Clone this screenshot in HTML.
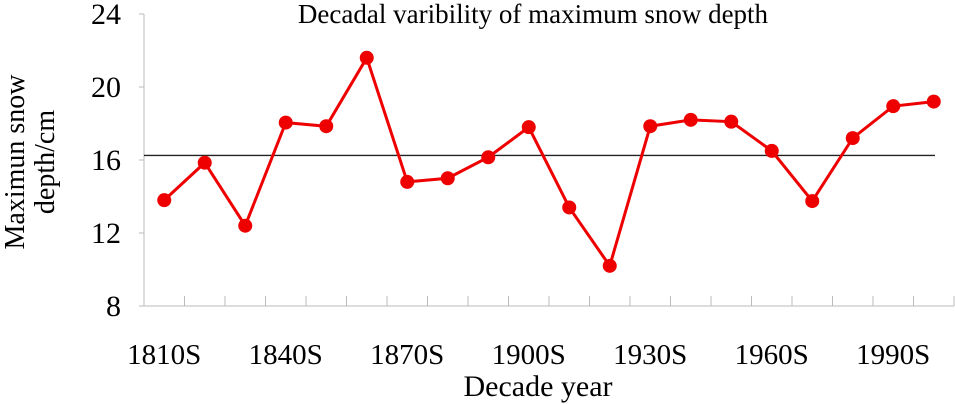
<!DOCTYPE html>
<html><head><meta charset="utf-8"><style>
body{margin:0;background:#fff;}
svg{display:block;font-family:"Liberation Serif",serif;}
</style></head><body>
<svg id="chart" width="955" height="404"></svg>
<script>
const categories=["1810S","1820S","1830S","1840S","1850S","1860S","1870S","1880S","1890S","1900S","1910S","1920S","1930S","1940S","1950S","1960S","1970S","1980S","1990S","2000S"];
const depthValues=[13.8,15.85,12.4,18.05,17.85,21.6,14.8,15.0,16.15,17.8,13.4,10.2,17.85,18.2,18.1,16.5,13.75,17.2,18.95,19.2];
const meanValue=[16.25];
const yTicks=[8,12,16,20,24];
const xLabelIdx=[0,3,6,9,12,15,18];

const svg=document.getElementById('chart');
const NS='http://www.w3.org/2000/svg';
const x0=144,step=40.5,yTop=14,yBot=306,yMin=8,yMax=24;
const xScale=i=>x0+step*(i+0.5);
const yScale=v=>yBot-(v-yMin)/(yMax-yMin)*(yBot-yTop);
function mk(tag,attrs,parent){const e=document.createElementNS(NS,tag);for(const k in attrs)e.setAttribute(k,attrs[k]);(parent||svg).appendChild(e);return e;}

const ax=mk('line',{x1:x0,y1:yTop,x2:x0,y2:yBot,stroke:'#bbb','stroke-width':1});


const xa=mk('line',{x1:x0,y1:yBot,x2:x0+step*categories.length,y2:yBot,stroke:'#bbb','stroke-width':1});


for(let k=1;k<=categories.length;k++){
  const t=mk('line',{x1:x0+step*k,y1:yBot,x2:x0+step*k,y2:yBot-10,stroke:'#bbb'});
  
  
}
yTicks.forEach(v=>{
  const t=mk('line',{x1:x0-5,y1:yScale(v),x2:x0,y2:yScale(v),stroke:'#bbb'});
  
  
  const l=mk('text',{x:121,y:yScale(v)+10,'text-anchor':'end','font-size':30});
  l.textContent=v;
  
  
});
xLabelIdx.forEach(i=>{
  const l=mk('text',{x:xScale(i),y:364,'text-anchor':'middle','font-size':29});
  l.textContent=categories[i];
  
  
});
const ml=mk('line',{x1:x0,y1:yScale(meanValue[0]),x2:935,y2:yScale(meanValue[0]),stroke:'#222','stroke-width':1.3});


const pts=depthValues.map((v,i)=>xScale(i)+','+yScale(v)).join(' ');
const pl=mk('polyline',{points:pts,fill:'none',stroke:'#ee0000','stroke-width':3});


depthValues.forEach((v,i)=>{
  const c=mk('circle',{cx:xScale(i),cy:yScale(v),r:7,fill:'#ee0000'});
  
  
});
const title=mk('text',{x:533,y:23,'text-anchor':'middle','font-size':27});
title.textContent='Decadal varibility of maximum snow depth';


const xt=mk('text',{x:538,y:396,'text-anchor':'middle','font-size':30});
xt.textContent='Decade year';


const yt=mk('text',{transform:'translate(24,162) rotate(-90)','text-anchor':'middle','font-size':28});


const t1=mk('tspan',{x:0,dy:0},yt);t1.textContent='Maximun snow';
const t2=mk('tspan',{x:0,dy:30},yt);t2.textContent='depth/cm';
</script>
</body></html>
